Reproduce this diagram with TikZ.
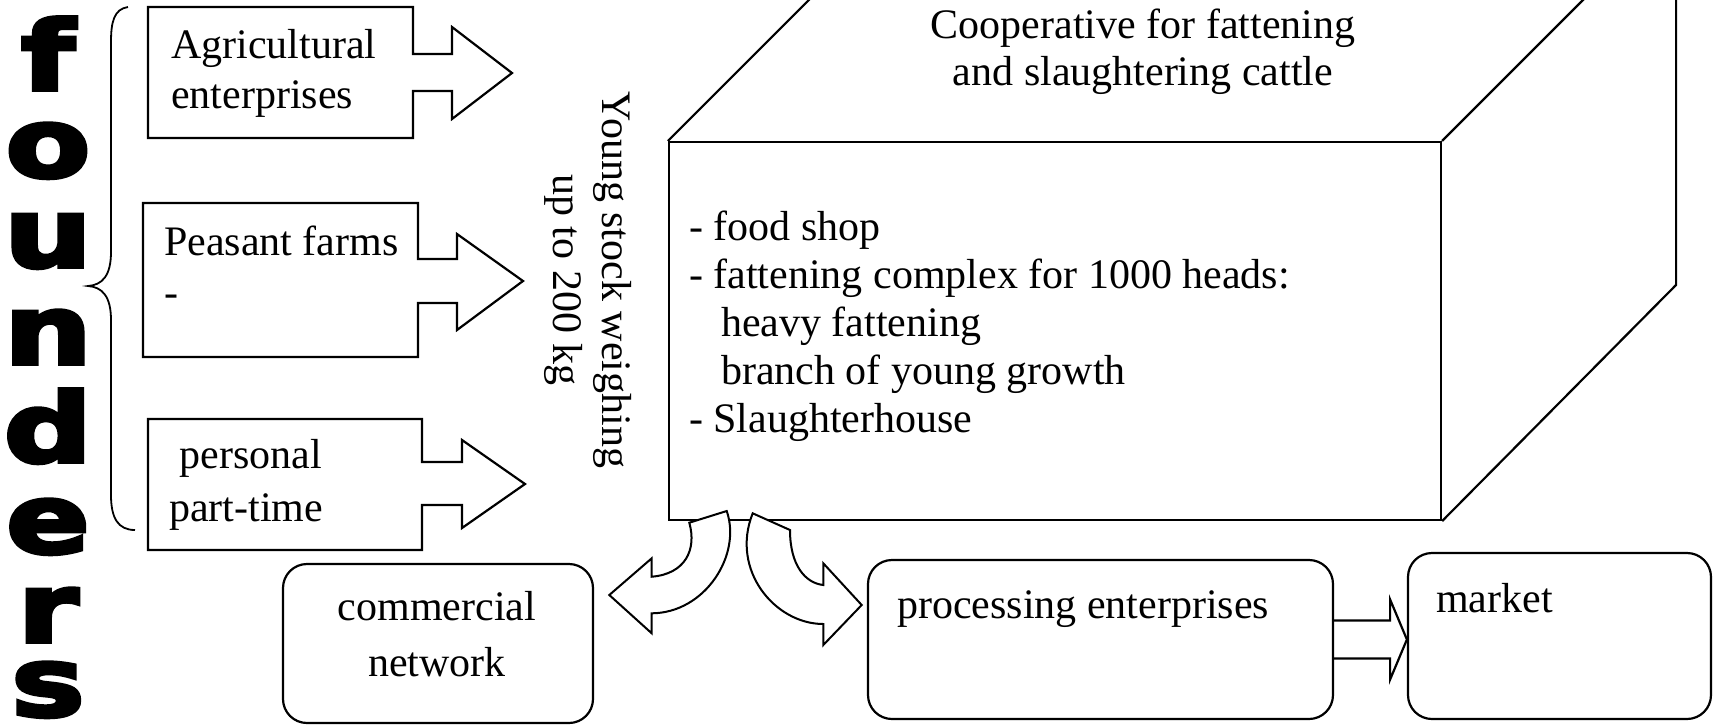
\documentclass[tikz,border=0pt]{standalone}
\usepackage{fontspec}
\setmainfont{Liberation Serif}
\newfontfamily\founderfont[FakeBold=4]{DejaVu Sans Bold}
\usetikzlibrary{calc}
\newcommand{\fdl}[1]{\scalebox{1.28}[1]{#1}}
\begin{document}
\begin{tikzpicture}[x=0.5pt,y=-0.5pt, line width=1.1pt, line join=miter,
  txt/.style={font=\fontsize{21}{25}\selectfont, inner sep=0pt, align=left},
  rbox/.style={draw, rounded corners=12pt, inner sep=0pt},
  fl/.style={font=\founderfont\fontsize{48}{48}\selectfont, inner sep=0pt, anchor=base}]
\useasboundingbox (0,0) rectangle (1714,725);
\begin{scope}
\clip (0,0) rectangle (1714,725);
% founders
\node[fl] (L1) at (48,90) {\fdl{f}};
\node[fl] (L2) at (48,177) {\fdl{o}};
\node[fl] (L3) at (48,267) {\fdl{u}};
\node[fl] (L4) at (48,364) {\fdl{n}};
\node[fl] (L5) at (48,462) {\fdl{d}};
\node[fl] (L6) at (48,553) {\fdl{e}};
\node[fl] (L7) at (48,642) {\fdl{r}};
\node[fl] (L8) at (48,716) {\fdl{s}};
% brace
\draw[line width=0.9pt] (128,7) .. controls (114,9) and (111,22) .. (111,42) -- (111,252)
  .. controls (111,276) and (102,285) .. (88,286)
  .. controls (102,287) and (111,296) .. (111,320) -- (111,495)
  .. controls (111,518) and (118,530) .. (135,530);
% founder boxes with arrows
\draw (148,7) -- (413,7) -- (413,54) -- (452,54) -- (452,27) -- (512,73) -- (452,119) -- (452,91) -- (413,91) -- (413,138) -- (148,138) -- cycle;
\node[txt, anchor=base west] (agr) at (170,108) {Agricultural\\enterprises};
\draw (143,203) -- (418,203) -- (418,259) -- (457,259) -- (457,234) -- (523,281) -- (457,330) -- (457,303) -- (418,303) -- (418,357) -- (143,357) -- cycle;
\node[txt, anchor=base west, font=\fontsize{21}{25.5}\selectfont] (pea) at (163,306) {Peasant farms\\-};
\draw (148,419) -- (422,419) -- (422,462) -- (462,462) -- (462,440) -- (525,484) -- (462,528) -- (462,505) -- (422,505) -- (422,550) -- (148,550) -- cycle;
\node[txt, anchor=base west, font=\fontsize{21}{26.5}\selectfont] (per) at (168,521) {\hspace*{0.25em}personal\\part-time};
% vertical label
\node[txt, align=center, rotate=-90, anchor=base, font=\fontsize{21}{24.5}\selectfont] (young) at (553,280) {Young stock weighing\\up to 200 kg};
% cube
\node[draw, minimum width=386pt, minimum height=189pt, inner sep=0pt] (cube) at (1055,331) {};
\draw (cube.north west) -- ++(234,-234) -- ++(772,0);
\draw (cube.north east) -- ++(234,-234) -- ++(0,378) -- (cube.south east);
\node[txt, align=center, anchor=base, font=\fontsize{21}{23.5}\selectfont] (coop) at (1143,85) {Cooperative for fattening\\and slaughtering cattle};
\node[txt, anchor=base west, font=\fontsize{21}{24}\selectfont] (list) at (688,432) {- food shop\\- fattening complex for 1000 heads:\\\hspace*{0.76em}heavy fattening\\\hspace*{0.76em}branch of young growth\\- Slaughterhouse};
% bottom boxes
\node[rbox, minimum width=155pt, minimum height=79.5pt] (comm) at (438,643.5) {};
\node[txt, align=center, anchor=base, font=\fontsize{21}{28}\selectfont] (commt) at (437,676) {commercial\\network};
\node[rbox, minimum width=232.5pt, minimum height=79.5pt] (proc) at (1100.5,639.5) {};
\node[txt, anchor=base west] (proct) at (896,618) {processing enterprises};
\node[rbox, minimum width=151.5pt, minimum height=83pt] (mkt) at (1559.5,636) {};
\node[txt, anchor=base west] (mktt) at (1435,612) {market};
% block arrow processing -> market
\draw ($(proc.east)+(0,-19)$) -- ($(proc.east)+(56,-19)$) -- ($(proc.east)+(56,-40)$) -- (mkt.west |- proc.east) -- ($(proc.east)+(56,40)$) -- ($(proc.east)+(56,19)$) -- ($(proc.east)+(0,19)$);
% curved arrows from cube
\draw[fill=white, line width=1pt] (689.3,522.7) -- (726.7,511) .. controls (742,555) and (705,613) .. (651.7,613.3) -- (651.7,633.3) -- (609.3,595) -- (651.7,558.3) -- (651.7,576.7) .. controls (685,574) and (697,550) .. (689.3,522.7) -- cycle;
\draw[fill=white, line width=1pt] (752.7,513.3) -- (790,530) .. controls (790,565) and (805,583) .. (823.3,585) -- (823.3,563.3) -- (861.7,605) -- (823.3,645) -- (823.3,624) .. controls (775,624) and (730,570) .. (752.7,513.3) -- cycle;
\end{scope}
\end{tikzpicture}
\end{document}
